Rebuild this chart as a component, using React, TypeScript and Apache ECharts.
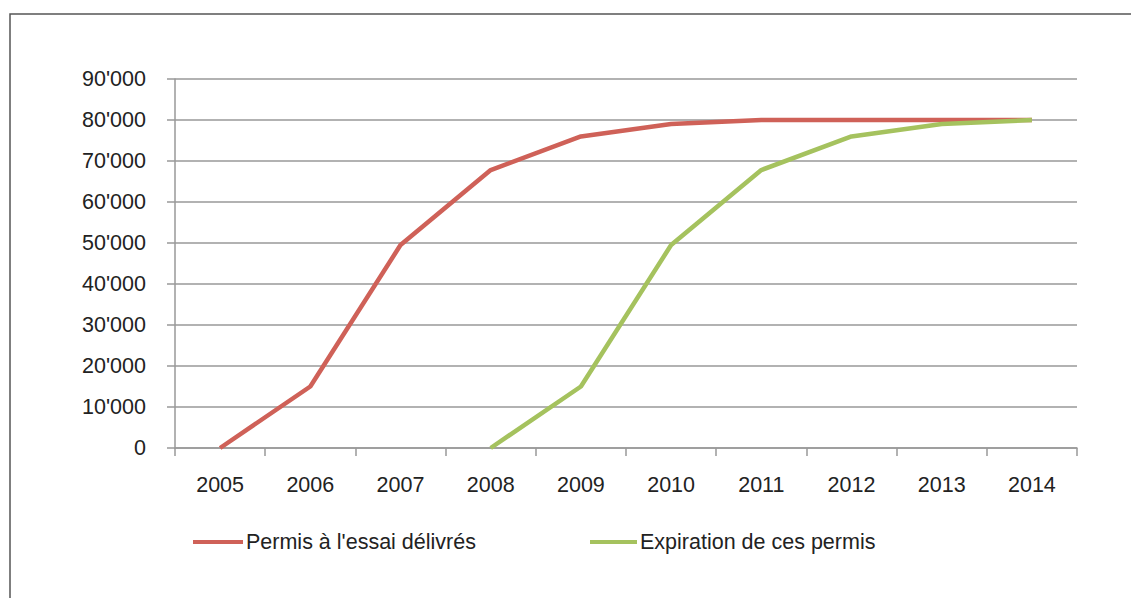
import React, { useEffect, useRef } from "react";
import * as echarts from "echarts";

const years = ["2005", "2006", "2007", "2008", "2009", "2010", "2011", "2012", "2013", "2014"];
const permisDelivres = [0, 15000, 49500, 67800, 76000, 79000, 80000, 80000, 80000, 80000];
const expiration = [null, null, null, 0, 15000, 49500, 67800, 76000, 79000, 80000];
const seriesNames = ["Permis à l'essai délivrés", "Expiration de ces permis"];

const fmt = (v: number) => {
  if (v === 0) return "0";
  const s = String(v);
  return s.replace(/\B(?=(\d{3})+(?!\d))/g, "'");
};

export default function App() {
  const ref = useRef<HTMLDivElement>(null);
  useEffect(() => {
    if (!ref.current) return;
    const chart = echarts.init(ref.current, null, { renderer: "svg" });
    const font = "Liberation Sans";
    const fs = 21.5;
    chart.setOption({
      animation: false,
      backgroundColor: "#fff",
      textStyle: { fontFamily: font },
      graphic: [
        {
          type: "rect",
          shape: { x: 10, y: 14, width: 1140, height: 620 },
          style: { fill: "none", stroke: "#555", lineWidth: 1.5 },
          silent: true,
        },
      ],
      grid: { left: 175, right: 54, top: 79, bottom: 150, containLabel: false },
      legend: [
        {
          data: [seriesNames[0]],
          left: 188,
          top: 526,
          itemWidth: 50,
          itemHeight: 4,
          icon: "rect",
          itemGap: 6,
          textStyle: { fontFamily: font, fontSize: fs, color: "#222", padding: [0, 0, 0, -2] },
        },
        {
          data: [seriesNames[1]],
          left: 585,
          top: 526,
          itemWidth: 47,
          itemHeight: 4,
          icon: "rect",
          textStyle: { fontFamily: font, fontSize: fs, color: "#222", padding: [0, 0, 0, -2] },
        },
      ],
      xAxis: {
        type: "category",
        data: years,
        boundaryGap: true,
        axisLine: { show: true, lineStyle: { color: "#999", width: 1.5 } },
        axisTick: { show: true, length: 8, lineStyle: { color: "#999", width: 1.5 } },
        axisLabel: { fontFamily: font, fontSize: fs, color: "#222", margin: 26 },
        splitLine: { show: false },
      },
      yAxis: {
        type: "value",
        min: 0,
        max: 90000,
        interval: 10000,
        axisLine: { show: true, lineStyle: { color: "#999", width: 1.5 } },
        axisTick: { show: true, length: 8, lineStyle: { color: "#999", width: 1.5 } },
        axisLabel: { fontFamily: font, fontSize: fs, color: "#222", margin: 29, formatter: fmt },
        splitLine: { show: true, lineStyle: { color: "#999", width: 1.5 } },
      },
      series: [
        {
          name: seriesNames[0],
          type: "line",
          data: permisDelivres,
          showSymbol: false,
          symbol: "none",
          color: "#CF6158",
          lineStyle: { width: 4.5, color: "#CF6158" },
        },
        {
          name: seriesNames[1],
          type: "line",
          data: expiration,
          showSymbol: false,
          symbol: "none",
          color: "#A5C25E",
          lineStyle: { width: 4.5, color: "#A5C25E" },
        },
      ],
    });
    return () => chart.dispose();
  }, []);
  return (
    <div
      ref={ref}
      style={{ position: "absolute", left: 0, top: 0, width: 1131, height: 598 }}
    />
  );
}
